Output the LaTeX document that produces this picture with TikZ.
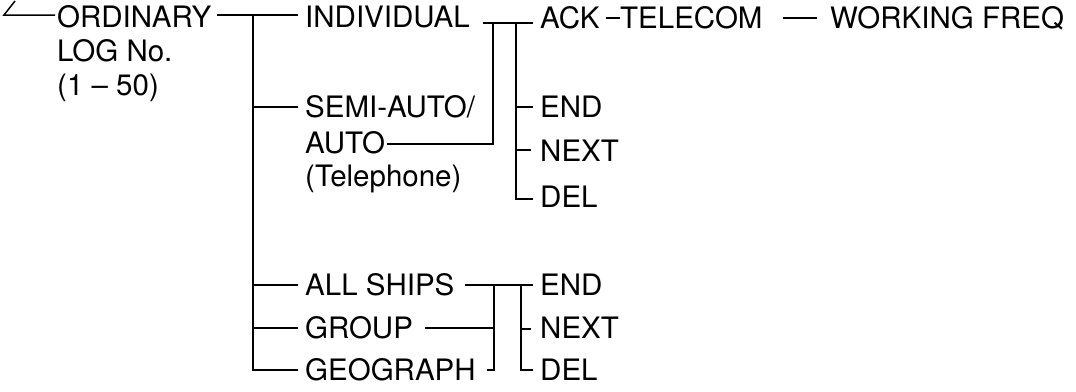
\documentclass[tikz,border=0pt]{standalone}
\usepackage{fontspec}
\setmainfont{TeX Gyre Heros}
\begin{document}
\begin{tikzpicture}[x=1pt,y=-1pt,
  lbl/.style={anchor=base west, inner sep=0pt, font=\fontsize{29.5}{34}\selectfont},
  conn/.style={draw, line width=1.5pt, line cap=butt}]
\useasboundingbox (0,0) rectangle (1076,391);
% texts
\node[lbl] (ord) at (57,27) {ORDINARY};
\node[lbl] (log) at (57,61) {LOG No.};
\node[lbl] (rng) at (57,95) {(1 -- 50)};
\node[lbl] (ind) at (305,27) {INDIVIDUAL};
\node[lbl] (semi) at (305,117) {SEMI-AUTO/};
\node[lbl] (auto) at (305,153) {AUTO};
\node[lbl] (tel) at (305,186) {(Telephone)};
\node[lbl] (ack) at (540,28) {ACK};
\node[lbl] (telc) at (620,28) {TELECOM};
\node[lbl] (wf) at (830,28) {WORKING FREQ};
\node[lbl] (endA) at (540,117) {END};
\node[lbl] (nextA) at (540,161) {NEXT};
\node[lbl] (delA) at (540,207) {DEL};
\node[lbl] (all) at (305,295) {ALL SHIPS};
\node[lbl] (grp) at (305,338) {GROUP};
\node[lbl] (geo) at (305,380) {GEOGRAPH};
\node[lbl] (endB) at (540,295) {END};
\node[lbl] (nextB) at (540,338) {NEXT};
\node[lbl] (delB) at (540,380) {DEL};
% junctions
\coordinate (k0) at (15,1);
\coordinate (k1) at (4,15);
\coordinate (k2) at (55,15);
\coordinate (o1) at (217,15);
\coordinate (t0) at (253,15);
\coordinate (o2) at (298,15);
\coordinate (tS) at (253,107);
\coordinate (sS) at (298,107);
\coordinate (tA) at (253,285);
\coordinate (sA) at (298,285);
\coordinate (tG) at (253,328);
\coordinate (sG) at (298,328);
\coordinate (tE) at (253,370);
\coordinate (sE) at (298,370);
% individual group
\coordinate (i1) at (483,23);
\coordinate (v1) at (493,23);
\coordinate (v2) at (516,23);
\coordinate (i2) at (533,23);
\coordinate (a1) at (387,144);
\coordinate (a2) at (493,144);
\coordinate (eA1) at (516,107);
\coordinate (eA2) at (533,107);
\coordinate (nA1) at (516,150);
\coordinate (nA2) at (531,150);
\coordinate (dA1) at (516,199);
\coordinate (dA2) at (533,199);
% telecom line
\coordinate (w1) at (783,18);
\coordinate (w2) at (817,18);
\coordinate (k3) at (606,18);
\coordinate (k4) at (620,18);
% all ships group
\coordinate (b1) at (465,285);
\coordinate (b2) at (494,285);
\coordinate (b3) at (521,285);
\coordinate (b4) at (533,285);
\coordinate (g1) at (425,328);
\coordinate (g2) at (494,328);
\coordinate (h1) at (487,370);
\coordinate (h2) at (494,370);
\coordinate (nB1) at (521,329);
\coordinate (nB2) at (531,329);
\coordinate (dB1) at (521,370);
\coordinate (dB2) at (533,370);
% connectors
\path[conn] (k0) -- (k1) -- (k2);
\path[conn] (o1) -- (o2);
\path[conn] (t0) -- (tE) -- (sE);
\path[conn] (tS) -- (sS);
\path[conn] (tA) -- (sA);
\path[conn] (tG) -- (sG);
\path[conn] (i1) -- (i2);
\path[conn] (v1) -- (a2) -- (a1);
\path[conn] (v2) -- (dA1) -- (dA2);
\path[conn] (eA1) -- (eA2);
\path[conn] (nA1) -- (nA2);
\path[conn] (k3) -- (k4);
\path[conn] (w1) -- (w2);
\path[conn] (b1) -- (b4);
\path[conn] (b2) -- (h2) -- (h1);
\path[conn] (g1) -- (g2);
\path[conn] (b3) -- (dB1) -- (dB2);
\path[conn] (nB1) -- (nB2);
\end{tikzpicture}
\end{document}
